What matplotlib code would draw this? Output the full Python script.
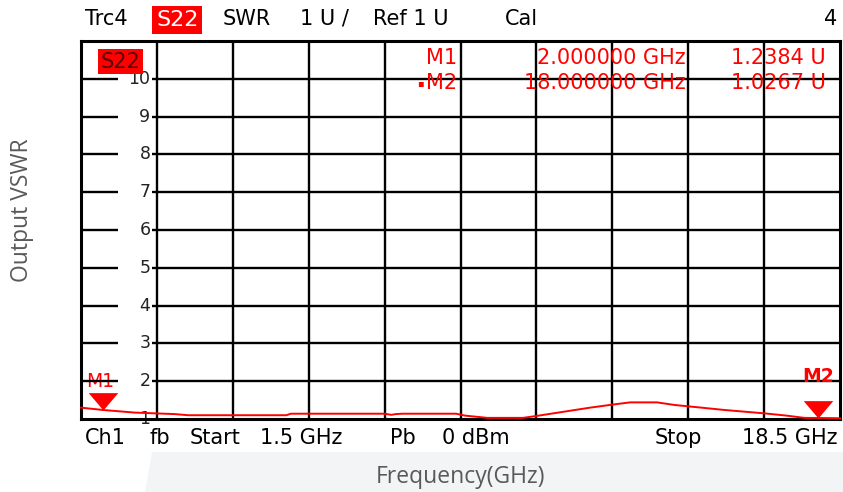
import numpy as np
import matplotlib.pyplot as plt
from matplotlib.patches import Polygon

# Output VSWR (S22) trace
freq_ghz = [1.5, 2.0, 2.7, 3.6, 3.9, 5.0, 6.1, 6.2, 7.5, 8.3, 8.45, 8.55, 8.7, 9.9,
            10.1, 10.6, 11.4, 11.7, 12.3, 12.9, 13.4, 13.8, 14.4, 14.8, 15.4,
            15.9, 16.5, 16.8, 17.3, 17.7, 18.0, 18.5]
vswr = [1.30, 1.238, 1.17, 1.13, 1.10, 1.10, 1.10, 1.14, 1.14, 1.14, 1.11, 1.13, 1.14, 1.14,
        1.09, 1.03, 1.03, 1.08, 1.19, 1.30, 1.38, 1.44, 1.44, 1.37, 1.30,
        1.24, 1.18, 1.15, 1.09, 1.03, 1.027, 1.02]

marker_names = ['M1', 'M2']
marker_freq = [2.0, 18.0]
marker_vswr = [1.2384, 1.0267]

y_levels = [1, 2, 3, 4, 5, 6, 7, 8, 9, 10]
start_ghz = 1.5
stop_ghz = 18.5
n_div = 10

W, H = 843, 492
RED = '#ff0000'
FONT = 'DejaVu Sans'


def fx(px):
    return px / W


def fy(py):
    return 1 - py / H


fig = plt.figure(figsize=(W / 100, H / 100), dpi=100)
fig.patch.set_facecolor('white')

# light grey band behind the axis title
fig.patches.append(Polygon([(fx(152), fy(452)), (fx(843), fy(452)), (fx(843), fy(492)), (fx(145), fy(492))],
                           closed=True, transform=fig.transFigure, facecolor='#f3f4f6', edgecolor='none', zorder=0))

ax = fig.add_axes([fx(81), fy(419), (840 - 81) / W, (419 - 41) / H])
ax.set_xlim(start_ghz, stop_ghz)
ax.set_ylim(1, 11)
ax.set_xticks([])
ax.set_yticks([])
ax.patch.set_alpha(0)
for s in ax.spines.values():
    s.set_linewidth(2.2)
    s.set_color('black')

step = (stop_ghz - start_ghz) / n_div
xgrid = start_ghz + step * np.arange(1, n_div)
ax.vlines(xgrid, 1, 11, colors='black', lw=1.7, zorder=1)

# horizontal lines, broken where the scale numbers sit
left_end = start_ghz + 0.49 * step
right_start = start_ghz + 0.94 * step
ax.hlines(y_levels[1:], start_ghz, left_end, colors='black', lw=1.7, zorder=1)
ax.hlines(y_levels[1:], right_start, stop_ghz, colors='black', lw=1.7, zorder=1)
for y in y_levels:
    ax.text(start_ghz + 0.915 * step, y, str(y), ha='right', va='center', fontsize=12.5,
            family=FONT, color='#222222', zorder=2)

# trace
ax.plot(freq_ghz, vswr, color=RED, lw=1.4, zorder=3, clip_on=False)

# marker triangles, tip on the trace
tri = [(0, 0), (-0.85, 1), (0.85, 1), (0, 0)]
ax.plot(marker_freq, marker_vswr, linestyle='none', marker=tri, markersize=25,
        color=RED, markeredgewidth=0, zorder=4, clip_on=False)
ax.text(start_ghz + 0.255 * step, 2, marker_names[0], ha='center', va='center', fontsize=13.5,
        family=FONT, color=RED, zorder=0.5)
ax.text(marker_freq[1], 2.12, marker_names[1], ha='center', va='center', fontsize=13.5,
        family=FONT, fontweight='bold', color=RED, zorder=4)

# trace label box
ax.text(start_ghz + 0.26 * step, 10.45, 'S22', ha='left', va='center', fontsize=15,
        family=FONT, color='#5a0000', zorder=5,
        bbox=dict(boxstyle='square,pad=0.12', facecolor=RED, edgecolor='none'))

# header line
hs = 15
fig.text(fx(85), fy(19), 'Trc4', ha='left', va='center', fontsize=hs, family=FONT)
fig.text(fx(156), fy(20), 'S22', ha='left', va='center', fontsize=hs + 1, family=FONT, color='white',
         bbox=dict(boxstyle='square,pad=0.18', facecolor=RED, edgecolor='none'))
fig.text(fx(223), fy(19), 'SWR', ha='left', va='center', fontsize=hs, family=FONT)
fig.text(fx(300), fy(19), '1 U /', ha='left', va='center', fontsize=hs, family=FONT)
fig.text(fx(373), fy(19), 'Ref 1 U', ha='left', va='center', fontsize=hs, family=FONT)
fig.text(fx(505), fy(19), 'Cal', ha='left', va='center', fontsize=hs, family=FONT)
fig.text(fx(837), fy(19), '4', ha='right', va='center', fontsize=hs, family=FONT)

# marker readout
rows = [(57.5, marker_names[0], '2.000000 GHz', '1.2384 U'),
        (83, marker_names[1], '18.000000 GHz', '1.0267 U')]
for py, name, f_txt, v_txt in rows:
    fig.text(fx(457), fy(py), name, ha='right', va='center', fontsize=hs, family=FONT, color=RED)
    fig.text(fx(686), fy(py), f_txt, ha='right', va='center', fontsize=hs, family=FONT, color=RED)
    fig.text(fx(826), fy(py), v_txt, ha='right', va='center', fontsize=hs, family=FONT, color=RED)
fig.text(fx(420), fy(83), '\u25aa', ha='center', va='center', fontsize=7, family=FONT, color=RED)

# footer line
fy_foot = fy(438)
fig.text(fx(85), fy_foot, 'Ch1', ha='left', va='center', fontsize=hs, family=FONT)
fig.text(fx(150), fy_foot, 'fb', ha='left', va='center', fontsize=hs, family=FONT)
fig.text(fx(190), fy_foot, 'Start', ha='left', va='center', fontsize=hs, family=FONT)
fig.text(fx(260), fy_foot, '1.5 GHz', ha='left', va='center', fontsize=hs, family=FONT)
fig.text(fx(390), fy_foot, 'Pb', ha='left', va='center', fontsize=hs, family=FONT)
fig.text(fx(442), fy_foot, '0 dBm', ha='left', va='center', fontsize=hs, family=FONT)
fig.text(fx(655), fy_foot, 'Stop', ha='left', va='center', fontsize=hs, family=FONT)
fig.text(fx(838), fy_foot, '18.5 GHz', ha='right', va='center', fontsize=hs, family=FONT)

# axis titles
fig.text(fx(461), fy(477), 'Frequency(GHz)', ha='center', va='center', fontsize=16.5,
         family='Open Sans', color='#595959')
fig.text(fx(22), fy(210), 'Output VSWR', ha='center', va='center', fontsize=16.5,
         family='Open Sans', color='#595959', rotation=90)

fig.savefig('out.png', dpi=100)
